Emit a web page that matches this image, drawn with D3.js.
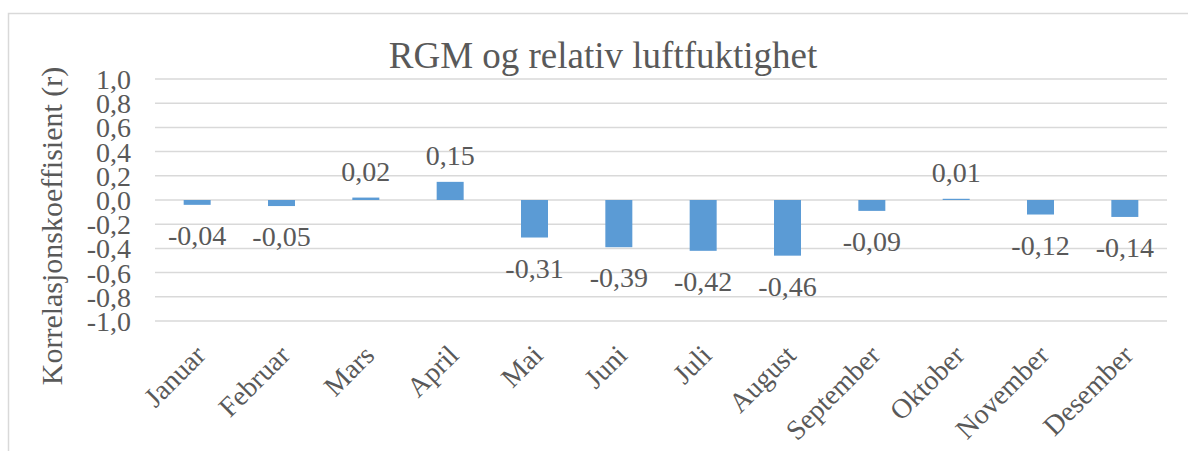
<!DOCTYPE html>
<html>
<head>
<meta charset="utf-8">
<script src="https://cdn.jsdelivr.net/npm/d3@7"></script>
<style>
  body { margin: 0; background: #fff; }
  svg text { font-family: "Liberation Serif", "Times New Roman", serif; }
</style>
</head>
<body>
<svg id="chart"></svg>
<script>
// data
const months = ["Januar", "Februar", "Mars", "April", "Mai", "Juni", "Juli", "August", "September", "Oktober", "November", "Desember"];
const values = [-0.04, -0.05, 0.02, 0.15, -0.31, -0.39, -0.42, -0.46, -0.09, 0.01, -0.12, -0.14];
const yTicks = [1.0, 0.8, 0.6, 0.4, 0.2, 0.0, -0.2, -0.4, -0.6, -0.8, -1.0];
const titleText = "RGM og relativ luftfuktighet";
const yTitle = "Korrelasjonskoeffisient (r)";

const width = 1188, height = 451;
const colors = { bar: "#5B9BD5", text: "#595959", grid: "#d9d9d9" };
const plot = { left: 155, right: 1167, top: 79, bottom: 321 };

const svg = d3.select("#chart").attr("width", width).attr("height", height);

// chart border
svg.append("rect")
  .attr("x", 8.5).attr("y", 13.5)
  .attr("width", 1300).attr("height", 600)
  .attr("fill", "none").attr("stroke", colors.grid).attr("stroke-width", 1.5);

const x = d3.scaleBand().domain(months).range([plot.left, plot.right]).paddingInner(0.68).paddingOuter(0.34);
const y = d3.scaleLinear().domain([-1, 1]).range([plot.bottom, plot.top]);
const fmt = v => d3.format(".1f")(v).replace(".", ",").replace("−", "-");
const fmt2 = v => d3.format(".2f")(v).replace(".", ",").replace("−", "-");

// gridlines
svg.append("g").selectAll("line").data(yTicks).join("line")
  .attr("x1", plot.left).attr("x2", plot.right)
  .attr("y1", d => y(d)).attr("y2", d => y(d))
  .attr("stroke", colors.grid).attr("stroke-width", 1.5);

// y axis tick labels
const yAxis = svg.append("g")
  .attr("transform", `translate(${plot.left - 24},0)`)
  .call(d3.axisLeft(y).tickValues(yTicks).tickFormat(fmt).tickSize(0).tickPadding(0));
yAxis.select(".domain").remove();
yAxis.attr("font-family", null).attr("font-size", null);
yAxis.selectAll("text")
  .style("font-family", "Liberation Serif").style("font-size", "28px")
  .attr("fill", colors.text).attr("dy", "0.34em");

// bars
svg.append("g").selectAll("rect").data(values).join("rect")
  .attr("x", (d, i) => x(months[i]))
  .attr("width", x.bandwidth())
  .attr("y", d => y(Math.max(0, d)))
  .attr("height", d => Math.abs(y(d) - y(0)))
  .attr("fill", colors.bar);

// data labels
svg.append("g").selectAll("text").data(values).join("text")
  .attr("x", (d, i) => x(months[i]) + x.bandwidth() / 2)
  .attr("y", d => d >= 0 ? y(d) - 17 : y(d) + 40)
  .attr("text-anchor", "middle")
  .style("font-size", "28px").attr("fill", colors.text)
  .text(fmt2);

// x labels
svg.append("g").selectAll("text").data(months).join("text")
  .attr("transform", d => `translate(${x(d) + x.bandwidth() / 2 + 10},${plot.bottom + 36}) rotate(-45)`)
  .attr("text-anchor", "end")
  .style("font-size", "28px").attr("fill", colors.text)
  .text(d => d);

// title
svg.append("text")
  .attr("x", 603).attr("y", 68)
  .attr("text-anchor", "middle")
  .style("font-size", "37px").attr("fill", colors.text)
  .text(titleText);

// y axis title
svg.append("text")
  .attr("transform", `translate(62,226) rotate(-90)`)
  .attr("text-anchor", "middle")
  .style("font-size", "30px").attr("fill", colors.text)
  .text(yTitle);
</script>
</body>
</html>
